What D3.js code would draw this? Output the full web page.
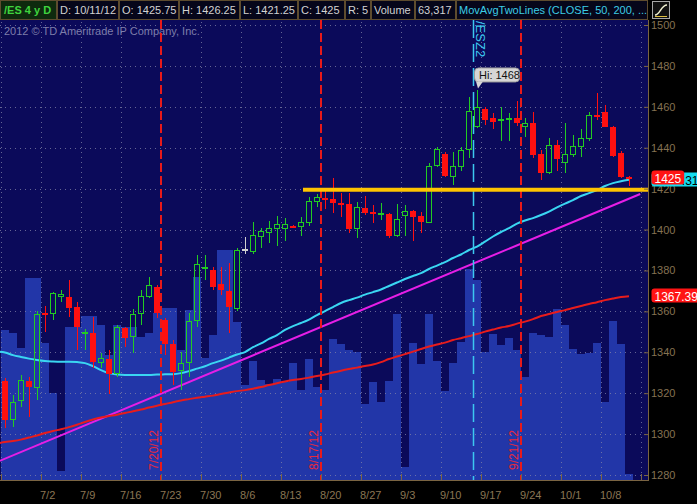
<!DOCTYPE html>
<html><head><meta charset="utf-8">
<script src="https://cdn.jsdelivr.net/npm/d3@7"></script>
<style>
html,body{margin:0;padding:0;background:#000;}
svg{display:block;font-family:"Liberation Sans",Arial,sans-serif;}
</style></head><body>
<svg id="chart" width="697" height="504"></svg>
<script>
// ---------------- DATA ----------------
const dates = ["6/25","6/26","6/27","6/28","6/29","7/2","7/3","7/4","7/5","7/6","7/9","7/10","7/11","7/12","7/13","7/16","7/17","7/18","7/19","7/20","7/23","7/24","7/25","7/26","7/27","7/30","7/31","8/1","8/2","8/3","8/6","8/7","8/8","8/9","8/10","8/13","8/14","8/15","8/16","8/17","8/20","8/21","8/22","8/23","8/24","8/27","8/28","8/29","8/30","8/31","9/3","9/4","9/5","9/6","9/7","9/10","9/11","9/12","9/13","9/14","9/17","9/18","9/19","9/20","9/21","9/24","9/25","9/26","9/27","9/28","10/1","10/2","10/3","10/4","10/5","10/8","10/9","10/10","10/11"];
const futureDates = ["10/12","10/15"];
const prevDate = "6/22";

const opens = [1326.1,1306.8,1316.3,1325.8,1322.3,1359.3,1358.7,1366.8,1366.8,1362.3,1348.9,1349.2,1334.9,1336.5,1329.3,1351.7,1347.3,1358.7,1366.8,1372.0,1355.7,1344.0,1331.0,1334.9,1355.4,1380.5,1380.2,1373.4,1369.9,1361.0,1390.3,1389.2,1396.5,1398.4,1400.1,1400.1,1401.9,1401.4,1403.3,1413.6,1415.2,1414.7,1413.1,1412.5,1400.1,1410.3,1408.7,1407.4,1407.6,1396.8,1406.6,1409.2,1406.6,1403.3,1431.0,1436.9,1425.5,1430.7,1438.9,1450.0,1458.8,1454.4,1453.2,1453.9,1454.4,1450.3,1451.9,1436.9,1427.8,1441.3,1432.7,1436.4,1440.5,1444.1,1456.0,1457.6,1450.0,1437.3,1425.75];
const highs = [1327.2,1319.1,1328.9,1328.0,1360.3,1362.6,1369.6,1370.4,1375.3,1364.7,1351.2,1357.4,1339.4,1341.1,1353.3,1352.2,1361.0,1370.4,1376.6,1372.9,1356.6,1346.0,1340.3,1359.0,1387.5,1387.5,1381.8,1381.5,1383.5,1390.8,1396.2,1403.8,1400.6,1404.3,1406.6,1405.5,1402.2,1406.3,1416.1,1417.4,1419.3,1425.0,1418.0,1418.0,1413.6,1416.4,1412.0,1413.1,1407.9,1412.5,1412.0,1409.5,1408.7,1432.4,1440.2,1438.1,1438.1,1440.5,1465.0,1468.0,1459.7,1456.8,1459.7,1456.8,1463.0,1454.4,1457.6,1438.9,1444.6,1443.8,1451.9,1446.2,1449.0,1457.6,1466.6,1460.9,1450.6,1438.6,1426.25];
const lows = [1302.8,1303.6,1313.4,1308.5,1316.6,1350.0,1355.8,1364.7,1357.4,1341.1,1341.1,1332.1,1332.1,1319.6,1328.0,1342.7,1339.4,1353.3,1366.3,1356.6,1338.6,1324.0,1321.5,1328.0,1352.5,1375.3,1370.4,1368.0,1349.2,1360.3,1388.0,1388.0,1390.8,1393.6,1391.9,1394.5,1400.6,1396.8,1401.7,1410.8,1409.9,1407.9,1406.3,1398.1,1395.7,1407.1,1403.3,1404.6,1395.7,1396.2,1396.8,1394.5,1398.1,1403.0,1430.4,1425.5,1421.8,1428.8,1434.8,1449.5,1451.1,1449.0,1443.4,1443.4,1450.6,1445.1,1434.8,1424.2,1427.1,1428.8,1427.8,1435.3,1435.6,1443.4,1453.5,1450.0,1435.3,1425.0,1421.25];
const closes = [1306.8,1315.8,1326.4,1323.1,1358.7,1358.0,1368.8,1368.3,1361.5,1352.2,1350.0,1335.4,1337.0,1329.3,1352.2,1346.8,1358.7,1367.5,1372.9,1359.0,1344.0,1330.5,1334.9,1355.4,1383.1,1381.5,1372.0,1370.4,1362.3,1390.0,1390.3,1397.3,1399.4,1400.6,1402.7,1402.7,1401.1,1403.8,1414.1,1415.7,1414.4,1412.8,1412.3,1400.1,1410.8,1407.9,1407.9,1408.2,1396.8,1405.0,1409.2,1406.3,1403.8,1431.1,1439.2,1426.2,1431.0,1438.9,1458.0,1459.7,1453.5,1452.7,1454.0,1454.7,1451.9,1451.9,1436.4,1427.5,1441.3,1434.3,1436.8,1440.8,1444.6,1456.0,1455.2,1450.3,1436.0,1425.8,1425];
const volumes = [1500000,1470000,1320000,2020000,2020000,1370000,870000,90000,1530000,1530000,1640000,1640000,1550000,1250000,1550000,1530000,1530000,1430000,1470000,1670000,1720000,1720000,1300000,1700000,2030000,1220000,1450000,2300000,2300000,1580000,950000,1190000,1000000,960000,1010000,980000,1170000,900000,1210000,930000,900000,1410000,1360000,1300000,1280000,760000,980000,780000,990000,1660000,130000,1370000,1160000,1660000,1190000,890000,1170000,1380000,2110000,2000000,1280000,1460000,1350000,1420000,1300000,1030000,1470000,1450000,1430000,1710000,1550000,1310000,1260000,1270000,1370000,780000,1590000,1360000,63317];

// moving averages, first value is for prevDate (6/22), then one per date
const ma50 = [1340.3,1339.9,1338.6,1337.7,1336.9,1336.2,1335.7,1335.5,1335.4,1335.4,1335.2,1334.7,1333.2,1331.3,1329.8,1329.1,1328.9,1328.9,1328.9,1328.9,1329.1,1329.2,1329.3,1329.8,1330.8,1332.0,1333.2,1334.7,1335.9,1337.4,1338.9,1340.1,1342.5,1344.3,1346.5,1348.4,1350.9,1352.8,1354.3,1356.0,1358.2,1360.1,1362.1,1364.1,1365.5,1366.7,1368.2,1369.4,1370.7,1372.4,1374.1,1375.8,1377.3,1378.7,1380.7,1382.4,1384.1,1386.1,1387.8,1390.0,1391.7,1394.1,1396.6,1398.8,1400.7,1402.9,1404.4,1405.6,1407.1,1408.8,1410.8,1412.7,1414.4,1416.4,1417.8,1419.3,1421.3,1422.7,1423.6,1424.31];
const ma200 = [1295.4,1296.1,1296.6,1297.3,1298.3,1299.3,1300.5,1301.5,1302.4,1303.4,1304.6,1305.9,1307.1,1308.1,1308.8,1309.5,1310.3,1311.2,1312.0,1313.0,1313.9,1314.7,1315.6,1316.4,1317.1,1317.8,1318.3,1318.8,1319.6,1320.3,1321.0,1321.5,1322.2,1323.0,1324.0,1324.9,1325.7,1326.4,1326.9,1327.6,1328.4,1329.1,1330.1,1331.0,1331.8,1332.5,1333.3,1334.0,1335.2,1336.7,1337.9,1339.1,1340.3,1341.6,1342.8,1343.8,1344.7,1346.0,1346.9,1347.9,1348.9,1350.1,1351.1,1352.1,1352.8,1354.0,1355.0,1356.2,1357.7,1358.7,1359.7,1360.6,1361.6,1362.6,1363.6,1364.5,1365.5,1366.3,1367.0,1367.39];

const priceTicks = [1280,1300,1320,1340,1360,1380,1400,1420,1440,1460,1480,1500];
const weekStarts = ["6/25","7/2","7/9","7/16","7/23","7/30","8/6","8/13","8/20","8/27","9/3","9/10","9/17","9/24","10/1","10/8","10/15"];
const weekLabels = ["7/2","7/9","7/16","7/23","7/30","8/6","8/13","8/20","8/27","9/3","9/10","9/17","9/24","10/1","10/8"];
const expirations = ["7/20","8/17","9/21"];          // end of these sessions
const expirationLabels = ["7/20/12","8/17/12","9/21/12"];
const rollDate = "9/13", rollLabel = "/ESZ2";         // end of this session
const trendStart = {date:"6/25", price:1288.0};
const trendEnd = {date:"10/11", price:1415.1};
const trendExtendBars = 1.4;
const levelLine = {fromIndex:37.25, price:1419.5};
const symbol = "/ES 4 y D", year = "12";
const studyName = "MovAvgTwoLines (CLOSE, 50, 200, ...";
const copyright = "2012 \u00a9 TD Ameritrade IP Company, Inc.";

// ---------------- SCALES ----------------
const allDates = dates.concat(futureDates);
const idx = d => d === prevDate ? -1 : allDates.indexOf(d);
const PL = 0, PT = 20, PR = 648, PB = 480;
const x = d3.scaleLinear().domain([0, 78]).range([5, 629]);
const y = d3.scaleLinear().domain([1280, 1500]).range([475, 25]);
const yv = d3.scaleLinear().domain([0, 2300000]).range([480, 250]);
const fmt = v => Number.isInteger(v) ? String(v) : (Math.round(v*100)/100).toString();

const svg = d3.select("#chart");
svg.append("rect").attr("width",697).attr("height",504).attr("fill","#000");
const defs = svg.append("defs");
defs.append("clipPath").attr("id","pc")
  .append("rect").attr("x",PL).attr("y",PT).attr("width",PR-PL).attr("height",PB-PT);
svg.append("rect").attr("x",PL).attr("y",PT).attr("width",PR-PL).attr("height",PB-PT).attr("fill","#0b0a5a");
const g = svg.append("g").attr("clip-path","url(#pc)");

// volume
g.append("g").selectAll("rect").data(volumes).join("rect")
  .attr("x",(d,i)=>x(i-0.5)).attr("width",x(1)-x(0))
  .attr("y",d=>Math.round(yv(d))).attr("height",d=>PB-Math.round(yv(d)))
  .attr("fill","#2236a8").attr("shape-rendering","crispEdges");

// grid
const grid = g.append("g").attr("stroke","#8484a8").attr("stroke-opacity",0.75).attr("stroke-dasharray","1,4");
grid.selectAll("line.h").data(priceTicks).join("line").attr("class","h")
  .attr("x1",PL).attr("x2",PR).attr("y1",d=>Math.round(y(d))+0.5).attr("y2",d=>Math.round(y(d))+0.5);
grid.selectAll("line.v").data(weekStarts.filter(w=>!expirations.some(e=>idx(e)+0.5===idx(w)-0.5))).join("line").attr("class","v")
  .attr("x1",d=>x(idx(d)-0.5)+0.5).attr("x2",d=>x(idx(d)-0.5)+0.5).attr("y1",PT+2).attr("y2",PB);

// copyright
g.append("text").attr("x",4).attr("y",35).attr("fill","#7e7eaa").attr("font-size",11).text(copyright);

// trendline
const tI0 = idx(trendStart.date), tI1 = idx(trendEnd.date);
const slope = (trendEnd.price - trendStart.price)/(tI1 - tI0);
const tA = -1, tB = tI1 + trendExtendBars;
g.append("line").attr("x1",x(tA)).attr("y1",y(trendStart.price + slope*(tA-tI0)))
  .attr("x2",x(tB)).attr("y2",y(trendStart.price + slope*(tB-tI0)))
  .attr("stroke","#e61ee6").attr("stroke-width",2);

// moving averages
const maLine = d3.line().x((d,i)=>x(i-1)).y(d=>y(d)).curve(d3.curveMonotoneX);
g.append("path").attr("d",maLine(ma200)).attr("fill","none").attr("stroke","#e81c1c").attr("stroke-width",2);
g.append("path").attr("d",maLine(ma50)).attr("fill","none").attr("stroke","#3ad6f2").attr("stroke-width",2);

// expiration lines
expirations.forEach((d,k)=>{
  const xx = Math.round(x(idx(d)+0.5));
  g.append("line").attr("x1",xx).attr("x2",xx).attr("y1",PT).attr("y2",PB)
    .attr("stroke","#e81a1a").attr("stroke-width",2).attr("stroke-dasharray","9,4")
    .attr("shape-rendering","crispEdges");
  g.append("text").attr("transform",`translate(${xx-3},470) rotate(-90)`)
    .attr("fill","#e8283c").attr("font-size",12).text(expirationLabels[k]);
});
// roll line
{
  const xx = Math.round(x(idx(rollDate)+0.5))+0.5;
  g.append("line").attr("x1",xx).attr("x2",xx).attr("y1",PT).attr("y2",PB)
    .attr("stroke","#3cc8f0").attr("stroke-width",1.5).attr("stroke-dasharray","18,6");
  g.append("text").attr("transform",`translate(${xx+2},21) rotate(90)`)
    .attr("fill","#3cc8f0").attr("font-size",13).text(rollLabel);
}

// candles
const bars = dates.map((d,i)=>({i,o:opens[i],h:highs[i],l:lows[i],c:closes[i]}));
const cg = g.append("g").attr("shape-rendering","crispEdges");
bars.forEach(b=>{
  const cx = Math.round(x(b.i));
  const col = b.c > b.o ? "#22cc22" : (b.c < b.o ? "#ff1010" : "#d0d0d0");
  const yt = Math.round(y(Math.max(b.o,b.c))), yb = Math.round(y(Math.min(b.o,b.c)));
  const yh = Math.round(y(b.h)), yl = Math.round(y(b.l));
  const bh = yb - yt;
  cg.append("line").attr("x1",cx+0.5).attr("x2",cx+0.5).attr("y1",yh).attr("y2",yt).attr("stroke",col);
  cg.append("line").attr("x1",cx+0.5).attr("x2",cx+0.5).attr("y1",yb).attr("y2",yl).attr("stroke",col);
  if (b.c > b.o && bh >= 3) {
    cg.append("rect").attr("x",cx-2.5).attr("y",yt+0.5).attr("width",5).attr("height",bh-1)
      .attr("fill","none").attr("stroke",col);
  } else {
    cg.append("rect").attr("x",cx-3).attr("y",yt).attr("width",6).attr("height",Math.max(bh,2))
      .attr("fill",col);
  }
});

// horizontal level line
g.append("line").attr("x1",x(levelLine.fromIndex)).attr("x2",PR)
  .attr("y1",y(levelLine.price)).attr("y2",y(levelLine.price))
  .attr("stroke","#ffc400").attr("stroke-width",4);

// High bubble
{
  const hi = d3.max(highs), hiI = highs.indexOf(hi);
  const hx = Math.round(x(hiI)), hy = y(hi);
  const bub = svg.append("g");
  bub.append("rect").attr("x",hx-2.5).attr("y",hy-22.5).attr("width",45).attr("height",14).attr("rx",4)
    .attr("fill","#d6d6d6").attr("stroke","#9a9a9a");
  bub.append("path").attr("d",`M${hx-1},${hy-9}L${hx+6},${hy-9}L${hx+1},${hy-2}Z`).attr("fill","#d6d6d6");
  bub.append("text").attr("x",hx+2).attr("y",hy-11.5).attr("font-size",11).attr("fill","#111").text("Hi: "+fmt(hi));
}

// axes
const yAxis = d3.axisRight(y).tickValues(priceTicks).tickSize(-4).tickPadding(3).tickFormat(d3.format("d"));
const ya = svg.append("g").attr("transform",`translate(${PR},0)`).call(yAxis);
ya.attr("font-family",null).attr("font-size",11);
ya.select(".domain").remove();
ya.selectAll("line").attr("stroke","#7a6442");
ya.selectAll("text").attr("fill","#857252");

const labelIdx = new Map(weekLabels.map(w=>[idx(w)-0.5, w]));
const xAxis = d3.axisBottom(x).tickValues(weekStarts.map(w=>idx(w)-0.5)).tickSize(-6).tickPadding(0)
  .tickFormat(d => labelIdx.get(d) || "");
const xa = svg.append("g").attr("transform",`translate(0,${PB})`).call(xAxis);
xa.attr("font-family",null).attr("font-size",11);
xa.select(".domain").remove();
xa.selectAll("line").attr("stroke","#7a6442");
xa.selectAll("text").attr("fill","#8a7654").attr("text-anchor","start").attr("x",-1.5).attr("y",19).attr("dy",0);

svg.append("line").attr("x1",PR+0.5).attr("x2",PR+0.5).attr("y1",PT).attr("y2",PB+1).attr("stroke","#7a6442");
svg.append("line").attr("x1",PL).attr("x2",PR+1).attr("y1",PB+0.5).attr("y2",PB+0.5).attr("stroke","#7a6442");

// right side value labels
defs.append("clipPath").attr("id","cyanClip").append("rect").attr("x",681).attr("y",150).attr("width",20).attr("height",60);
function valueLabel(v, bg, fg, text, minW, clip) {
  const gg = svg.append("g");
  const r = gg.append("rect").attr("x",651.5).attr("y",Math.round(y(v))-7.5).attr("height",14).attr("rx",3).attr("fill",bg);
  const t = gg.append("text").attr("font-size",12).attr("fill",fg).attr("y",Math.round(y(v))+4.5).text(text);
  if (clip) t.attr("clip-path",`url(#${clip})`);
  const w = t.node().getComputedTextLength();
  r.attr("width",Math.max(w+6,minW||0));
  t.attr("x", minW ? 651.5+Math.max(w+6,minW)-3-w : 654.5);
}
const lastMa50 = ma50[ma50.length-1], lastMa200 = ma200[ma200.length-1];
valueLabel(lastMa50, "#14dcf0", "#000", lastMa50.toFixed(2), 50, "cyanClip");
valueLabel(closes[closes.length-1], "#ff1414", "#fff", fmt(closes[closes.length-1]));
valueLabel(lastMa200, "#ff1414", "#fff", lastMa200.toFixed(2));

// header
const L = dates.length-1;
const header = [
  {x0:0, x1:57, t:symbol, fill:"#0e2a0e", col:"#3fd43f", bold:true},
  {x0:57, x1:119, t:`D: ${dates[L]}/${year}`},
  {x0:119, x1:179, t:`O: ${fmt(opens[L])}`},
  {x0:179, x1:240, t:`H: ${fmt(highs[L])}`},
  {x0:240, x1:298, t:`L: ${fmt(lows[L])}`},
  {x0:298, x1:345, t:`C: ${fmt(closes[L])}`},
  {x0:345, x1:371, t:`R: ${fmt(highs[L]-lows[L])}`},
  {x0:371, x1:415, t:"Volume"},
  {x0:415, x1:456, t:d3.format(",")(volumes[L])},
  {x0:456, x1:648, t:studyName, col:"#3ccce6"}
];
const hg = svg.append("g");
header.forEach(h=>{
  hg.append("rect").attr("x",h.x0+0.5).attr("y",0.5).attr("width",h.x1-h.x0-1).attr("height",19)
    .attr("fill",h.fill||"#06061a").attr("stroke","#5e4c2e");
  hg.append("text").attr("x",h.x0+(h.bold?4:3)).attr("y",14).attr("font-size",11)
    .attr("font-weight",h.bold?"bold":null).attr("fill",h.col||"#d2d2d2").text(h.t);
});
// study icon
hg.append("rect").attr("x",652.5).attr("y",1.5).attr("width",17).attr("height",17).attr("fill","#111").attr("stroke","#a8a8a8");
hg.append("path").attr("d","M655,15 C660,15 661,5 667,5").attr("fill","none").attr("stroke","#f0f0d0").attr("stroke-width",1.5);
hg.append("line").attr("x1",655).attr("x2",667).attr("y1",16.5).attr("y2",16.5).attr("stroke","#e0c040");
</script>
</body></html>
